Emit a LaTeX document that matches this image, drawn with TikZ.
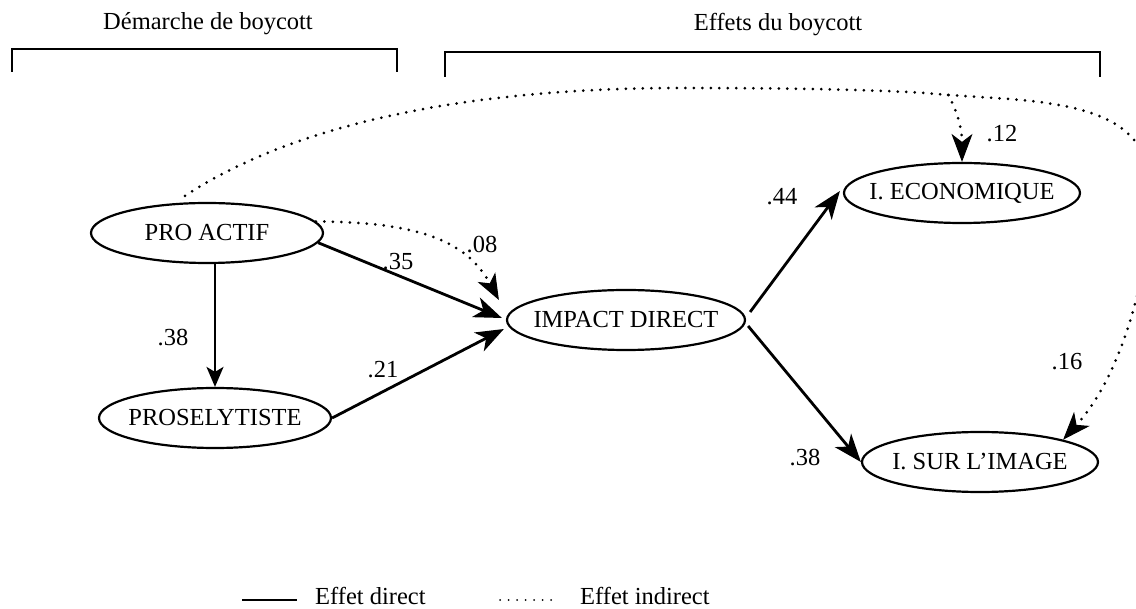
\documentclass[tikz,border=0pt]{standalone}
\usepackage{fontspec}
\setmainfont{Liberation Serif}
\usetikzlibrary{arrows.meta,calc,shapes.geometric}
% ellipse size is fixed by the style, not by the label
\newcommand\elltext[1]{\makebox[0pt]{#1}}
\begin{document}
\begin{tikzpicture}[x=1pt,y=-1pt,
  txt/.style={font=\fontsize{24.5}{28}\selectfont,inner sep=0pt},
  var/.style={draw,ellipse,line width=2.2pt,minimum width=#1,minimum height=60pt,inner sep=0pt,
    font=\fontsize{24.5}{28}\selectfont},
  bigtip/.style={-{Stealth[length=28pt,width=21pt,inset=8pt]}},
  direct/.style={line width=2.8pt,bigtip},
  indirect/.style={line width=3pt,line cap=round,dash pattern=on 0pt off 8.5pt},
  bracket/.style={line width=2.2pt},
  coef/.style={txt}]
\useasboundingbox (0,0) rectangle (1136,609);
\begin{scope}
\clip (0,0) rectangle (1136,609);

% group headings and their brackets
\node[txt] (h1) at (208,24) {Démarche de boycott};
\node[txt] (h2) at (778,25) {Effets du boycott};
\draw[bracket] (12,72) -- (12,49) -- (397,49) -- (397,72);
\draw[bracket] (445,77) -- (445,52) -- (1100,52) -- (1100,77);

% latent variables
\node[var=232pt] (pa) at (207,233) {\elltext{PRO ACTIF}};
\node[var=232pt] (pr) at (215,418) {\elltext{PROSELYTISTE}};
\node[var=238pt] (id) at (626,320) {\elltext{IMPACT DIRECT}};
\node[var=236pt] (ec) at (962,193) {\elltext{I. ECONOMIQUE}};
\node[var=236pt] (im) at (980,462) {\elltext{I. SUR L’IMAGE}};

% direct effects
\draw[line width=2pt,-{Stealth[length=20pt,width=17pt,inset=5pt]}]
  (pa.south -| pr.north) -- (pr.north);
\draw[direct] (pa.-5) -- ($(id.west)+(-4,-2)$);
\draw[direct] (pr.east) -- ($(id.west)+(-2,9)$);
\draw[direct] ($(id.east)+(4,-8)$) -- ($(ec.west)+(-3,-2)$);
\draw[direct] ($(id.east)+(2,6)$) -- ($(im.west)+(0,0)$);

% indirect effects
\draw[indirect,-{Stealth[length=26pt,width=20pt,inset=7pt,line width=1pt]}]
  (pa.6) .. controls +(110,0) and +(-30,-55) .. ($(id.west)+(-7,-20)$);
\coordinate (split) at (948,95);
\coordinate (turn) at (1152,195);
\draw[indirect,-{Stealth[length=28pt,width=21pt,inset=8pt,line width=1pt]}]
  ($(pa.north)+(-22,-6)$) .. controls (300,120) and (480,88) .. (680,88)
  .. controls (800,88) and (900,90) .. (split)
  .. controls (1050,102) and (1152,100) .. (turn)
  .. controls (1152,232) and (1135,360) .. (im.15);
\draw[indirect,-{Stealth[length=28pt,width=21pt,inset=8pt,line width=1pt]}]
  (split) .. controls (958,112) and (962,130) .. (ec.north);

% path coefficients
\node[coef] (c1) at (173,338) {.38};
\node[coef] (c2) at (398,262) {.35};
\node[coef] (c3) at (482,245) {.08};
\node[coef] (c4) at (383,370) {.21};
\node[coef] (c5) at (782,197) {.44};
\node[coef] (c6) at (805,458) {.38};
\node[coef] (c7) at (1002,134) {.12};
\node[coef] (c8) at (1067,362) {.16};

% legend
\coordinate (l1a) at (242,600);
\coordinate (l1b) at (297,600);
\coordinate (l2a) at (500,600);
\coordinate (l2b) at (553,600);
\draw[line width=2pt] (l1a) -- (l1b);
\node[txt,anchor=west] (t1) at (315,596) {Effet direct};
\draw[line width=2pt,line cap=round,dash pattern=on 0pt off 8.5pt] (l2a) -- (l2b);
\node[txt,anchor=west] (t2) at (580,596) {Effet indirect};
\end{scope}
\end{tikzpicture}
\end{document}
